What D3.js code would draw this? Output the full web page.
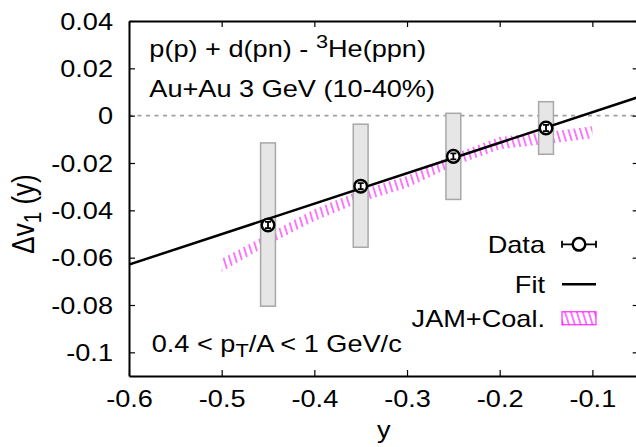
<!DOCTYPE html>
<html><head><meta charset="utf-8">
<script src="https://cdn.jsdelivr.net/npm/d3@7"></script>
<style>body{margin:0;background:#fff}svg{display:block}text{font-family:"Liberation Sans",Arial,sans-serif;fill:#000}</style>
</head><body><svg id="c" width="636" height="447"></svg>
<script>
// ---- data ----
const xTicks = [-0.6, -0.5, -0.4, -0.3, -0.2, -0.1];
const xTickLabels = ["-0.6", "-0.5", "-0.4", "-0.3", "-0.2", "-0.1"];
const yTicks = [0.04, 0.02, 0, -0.02, -0.04, -0.06, -0.08, -0.1];
const yTickLabels = ["0.04", "0.02", "0", "-0.02", "-0.04", "-0.06", "-0.08", "-0.1"];
const dataX = [-0.45, -0.35, -0.25, -0.15];
const dataY = [-0.0462, -0.0298, -0.0172, -0.0052];
const statErr = [0.0013, 0.0013, 0.0013, 0.0013];
const sysLow = [-0.0805, -0.0556, -0.0354, -0.0163];
const sysHigh = [-0.0115, -0.0036, 0.0010, 0.0059];
const fitSlope = 0.1287, fitIntercept = 0.0143;
const jamX = [-0.5, -0.45, -0.4, -0.35, -0.3, -0.25, -0.2, -0.15, -0.1];
const jamLow = [-0.0660, -0.0545, -0.0445, -0.0365, -0.0305, -0.0213, -0.0142, -0.0120, -0.0095];
const jamHigh = [-0.0605, -0.0500, -0.0395, -0.0315, -0.0255, -0.0163, -0.0090, -0.0070, -0.0045];
const legendLabels = ["Data", "Fit", "JAM+Coal."];

// ---- setup ----
const SX = 1.18, FS = 23;
const svg = d3.select("#c");
const x = d3.scaleLinear().domain([-0.6, -0.05]).range([129, 638.7]);
const y = d3.scaleLinear().domain([-0.11, 0.04]).range([376, 21]);
const defs = svg.append("defs");
const pat = defs.append("pattern").attr("id", "hatch").attr("patternUnits", "userSpaceOnUse")
  .attr("width", 5.65).attr("height", 10).attr("patternTransform", "rotate(-17)");
pat.append("line").attr("x1", 2.8).attr("x2", 2.8).attr("y1", -1).attr("y2", 11)
  .attr("stroke", "#ff00ff").attr("stroke-width", 1.05);
defs.append("clipPath").attr("id", "clip").append("rect")
  .attr("x", 129).attr("y", 21).attr("width", 638.7 - 129).attr("height", 376 - 21);

const plot = svg.append("g").attr("clip-path", "url(#clip)");

// zero line
plot.append("line").attr("x1", x(-0.6)).attr("x2", x(-0.05)).attr("y1", y(0)).attr("y2", y(0))
  .attr("stroke", "#a0a0a0").attr("stroke-width", 1.6).attr("stroke-dasharray", "4,4.5");

// JAM band
const jamData = jamX.map((v, i) => ({x: v, lo: jamLow[i], hi: jamHigh[i]}));
plot.append("path").datum(jamData)
  .attr("d", d3.area().x(d => x(d.x)).y0(d => y(d.lo)).y1(d => y(d.hi)))
  .attr("fill", "url(#hatch)").attr("stroke", "none");

// systematic boxes
const bw = 0.008;
plot.selectAll("rect.sys").data(dataX).join("rect").attr("class", "sys")
  .attr("x", d => x(d - bw)).attr("width", d => x(d + bw) - x(d - bw))
  .attr("y", (d, i) => y(sysHigh[i])).attr("height", (d, i) => y(sysLow[i]) - y(sysHigh[i]))
  .attr("fill", "#e6e6e6").attr("stroke", "#a8a8a8").attr("stroke-width", 1.5);

// fit line
const fitX = x.domain();
plot.append("line").attr("x1", x(fitX[0])).attr("y1", y(fitSlope * fitX[0] + fitIntercept))
  .attr("x2", x(fitX[1])).attr("y2", y(fitSlope * fitX[1] + fitIntercept))
  .attr("stroke", "#000").attr("stroke-width", 2.5);

// data points
const pts = plot.selectAll("g.pt").data(dataX).join("g").attr("class", "pt");
pts.append("circle").attr("cx", d => x(d)).attr("cy", (d, i) => y(dataY[i])).attr("r", 6.3)
  .attr("fill", "#fff").attr("stroke", "#000").attr("stroke-width", 2.5);
pts.append("path").attr("d", (d, i) => {
  const cx = x(d), y1 = y(dataY[i] + statErr[i]), y2 = y(dataY[i] - statErr[i]);
  return `M${cx},${y1}V${y2}M${cx - 3},${y1}H${cx + 3}M${cx - 3},${y2}H${cx + 3}`;
}).attr("stroke", "#000").attr("stroke-width", 1.8).attr("fill", "none");

// axes
const axStyle = g => { g.selectAll("path.domain").attr("stroke", "#000").attr("stroke-width", 2);
  g.selectAll(".tick line").attr("stroke", "#000").attr("stroke-width", 1.2); };
const ax = svg.append("g");
const gB = ax.append("g").attr("transform", `translate(0,${y(-0.11)})`)
  .call(d3.axisBottom(x).tickValues(xTicks).tickFormat((d, i) => xTickLabels[i]).tickSize(-6).tickSizeOuter(0));
gB.call(axStyle);
gB.selectAll("text").attr("y", 31.5).attr("dy", 0).attr("font-size", FS).attr("font-family", null)
  .attr("transform", `scale(${SX},1)`);
const gL = ax.append("g").attr("transform", `translate(${x(-0.6)},0)`)
  .call(d3.axisLeft(y).tickValues(yTicks).tickFormat((d, i) => yTickLabels[i]).tickSize(-6).tickSizeOuter(0));
gL.call(axStyle);
gL.selectAll("text").attr("x", -16 / SX).attr("dy", "0.36em").attr("font-size", FS).attr("font-family", null)
  .attr("transform", `scale(${SX},1)`);
const gT = ax.append("g").attr("transform", `translate(0,${y(0.04)})`)
  .call(d3.axisTop(x).tickValues(xTicks).tickFormat("").tickSize(-6).tickSizeOuter(0));
gT.call(axStyle);
const gR = ax.append("g").attr("transform", `translate(${x(-0.05)},0)`)
  .call(d3.axisRight(y).tickValues(yTicks).tickFormat("").tickSize(-6).tickSizeOuter(0));
gR.call(axStyle);

// text helper
function txt(xp, yp, anchor) {
  return svg.append("text").attr("transform", `translate(${xp},${yp}) scale(${SX},1)`)
    .attr("text-anchor", anchor || "start").attr("font-size", FS);
}
const t1 = txt(149.3, 56.7);
t1.append("tspan").text("p(p) + d(pn) - ");
t1.append("tspan").attr("font-size", FS * 0.8).attr("dy", -9).text("3");
t1.append("tspan").attr("dy", 9).text("He(ppn)");
txt(149.3, 97.3).text("Au+Au 3 GeV (10-40%)");
const t3 = txt(151.7, 352);
t3.append("tspan").text("0.4 < p");
t3.append("tspan").attr("font-size", FS * 0.8).attr("dy", 5).text("T");
t3.append("tspan").attr("dy", -5).text("/A < 1 GeV/c");

// axis titles
svg.append("text").attr("transform", `translate(${x(-0.325)},438) scale(${SX},1)`)
  .attr("text-anchor", "middle").attr("font-size", FS).text("y");
const YFS = 26;
const yl = svg.append("text").attr("transform", `translate(34,214) scale(${SX},1) rotate(-90)`)
  .attr("text-anchor", "middle").attr("font-size", YFS);
yl.append("tspan").text("Δv");
yl.append("tspan").attr("font-size", YFS * 0.8).attr("dy", 6).text("1");
yl.append("tspan").attr("dy", -6).text(" (y)");

// legend
const legY = [253.3, 293.3, 327.3];
legendLabels.forEach((l, i) => txt(545, legY[i], "end").text(l));
const ly0 = legY[0] - 9, lx0 = 562, lx1 = 596, lxc = (lx0 + lx1) / 2;
svg.append("path").attr("d", `M${lx0},${ly0}H${lx1}M${lx0},${ly0 - 3.5}V${ly0 + 3.5}M${lx1},${ly0 - 3.5}V${ly0 + 3.5}`)
  .attr("stroke", "#000").attr("stroke-width", 1.8);
svg.append("circle").attr("cx", lxc).attr("cy", ly0).attr("r", 6.3).attr("fill", "#fff")
  .attr("stroke", "#000").attr("stroke-width", 2.5);
svg.append("line").attr("x1", lx0).attr("x2", lx1).attr("y1", legY[1] - 9).attr("y2", legY[1] - 9)
  .attr("stroke", "#000").attr("stroke-width", 2.5);
svg.append("rect").attr("x", lx0).attr("y", legY[2] - 15.5).attr("width", lx1 - lx0).attr("height", 13)
  .attr("fill", "url(#hatch)").attr("stroke", "#ff00ff").attr("stroke-width", 1);
</script></body></html>
